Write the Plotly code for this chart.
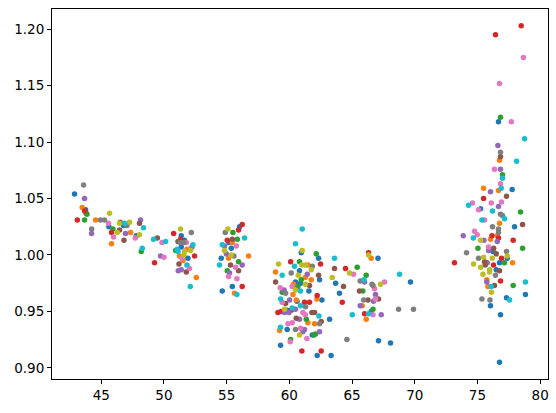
import plotly.graph_objects as go

blue_x = [42.87, 43.75, 43.80, 46.78, 45.61, 47.79, 51.38, 51.64, 51.38, 51.91, 56.03, 55.18, 55.37, 54.57, 54.65, 55.45,
          60.95, 62.33, 60.81, 62.41, 63.69, 60.49, 60.89, 61.56, 64.0, 62.60, 60.61, 59.83, 63.21, 59.83, 61.83, 59.30,
          62.22, 63.33, 67.07, 69.66, 66.53, 67.11, 68.07, 76.68, 77.77, 75.25, 77.96, 76.24, 77.38, 76.76, 76.50, 78.83,
          77.32, 76.04, 76.84, 76.76]
blue_y = [1.054, 1.040, 1.037, 1.026, 1.025, 1.017, 1.017, 1.013, 1.007, 0.997, 1.025, 1.011, 1.006, 0.997, 0.968, 0.972,
          1.002, 0.997, 0.986, 0.978, 0.975, 0.976, 0.975, 0.968, 0.966, 0.960, 0.959, 0.951, 0.943, 0.934, 0.929, 0.920,
          0.911, 0.911, 0.997, 0.976, 0.950, 0.924, 0.922, 1.118, 1.058, 1.041, 1.025, 1.003, 0.997, 0.993, 0.987, 0.965,
          0.962, 0.955, 0.947, 0.905]

orange_x = [43.48, 44.55, 47.34, 45.82, 51.83, 51.24, 51.52, 52.58, 55.45, 55.15, 56.75, 55.63, 61.48, 58.90, 61.75, 60.33,
            60.29, 62.20, 60.55, 62.01, 61.48, 59.22, 61.27, 66.53, 65.81, 66.13, 76.76, 75.49, 76.68, 76.76, 76.58, 76.04,
            77.80, 75.75, 75.84]
orange_y = [1.042, 1.031, 1.020, 1.010, 1.005, 0.999, 0.995, 0.980, 1.011, 0.997, 0.999, 0.966, 0.991, 0.985, 0.978, 0.974,
            0.965, 0.961, 0.960, 0.939, 0.940, 0.933, 0.980, 0.997, 0.955, 0.943, 1.084, 1.059, 1.057, 1.028, 1.017, 1.014,
            0.993, 0.978, 0.972]

green_x = [43.86, 43.67, 45.93, 48.19, 50.93, 55.50, 55.85, 55.95, 55.05, 62.15, 60.81, 60.68, 59.43, 61.35, 61.96, 62.09,
           60.10, 60.95, 65.41, 66.13, 65.86, 66.67, 76.84, 77.0, 78.44, 75.04, 78.60, 77.16, 77.85]
green_y = [1.036, 1.031, 1.023, 1.003, 1.004, 1.020, 1.014, 0.994, 0.986, 1.001, 0.994, 0.972, 0.967, 0.943, 0.929, 0.930,
           0.925, 0.978, 0.989, 0.982, 0.968, 0.952, 1.122, 1.071, 1.038, 1.006, 1.006, 0.993, 0.973]

red_x = [43.67, 43.09, 45.82, 49.25, 50.77, 51.32, 52.44, 56.24, 55.95, 55.05, 56.24, 60.10, 62.49, 64.48, 62.22, 61.21,
         61.61, 64.22, 59.09, 59.35, 60.15, 61.0, 62.54, 66.32, 66.0, 78.49, 76.44, 75.49, 76.16, 76.68, 77.85, 73.17,
         76.92, 76.28, 76.84]
red_y = [1.039, 1.031, 1.020, 0.993, 1.019, 1.014, 0.999, 1.027, 1.022, 1.013, 0.972, 0.994, 0.992, 0.988, 0.964, 0.958,
         0.958, 0.958, 0.949, 0.950, 0.951, 0.915, 0.915, 1.002, 0.948, 1.203, 1.195, 1.050, 1.017, 1.015, 1.013, 0.993,
         0.997, 0.991, 0.977]

purple_x = [43.67, 48.13, 46.94, 44.23, 49.73, 52.23, 51.38, 51.14, 54.83, 54.97, 56.24, 55.23, 61.43, 60.02, 60.49, 59.62,
            59.97, 60.81, 61.21, 61.08, 62.41, 59.58, 66.0, 66.87, 66.71, 65.65, 67.33, 76.63, 76.84, 76.04, 76.68, 73.87,
            75.52, 76.58, 75.89, 75.78, 75.75]
purple_y = [1.050, 1.031, 1.019, 1.019, 0.999, 1.007, 0.987, 0.986, 1.008, 1.001, 0.991, 0.984, 0.983, 0.960, 0.952, 0.949,
            0.949, 0.943, 0.934, 0.932, 0.932, 0.969, 0.976, 0.965, 0.959, 0.955, 0.947, 1.097, 1.076, 1.056, 1.043, 1.017,
            1.013, 1.012, 1.004, 0.993, 0.976]

brown_x = [46.52, 48.05, 46.46, 46.81, 49.47, 51.12, 51.20, 51.78, 55.45, 55.31, 55.95, 63.60, 62.33, 58.90, 64.32, 61.61,
           59.70, 61.80, 62.01, 60.55, 62.54, 65.59, 66.27, 67.11, 76.84, 77.32, 78.60, 76.29, 76.50, 75.57, 75.62, 76.76,
           76.36]
brown_y = [1.029, 1.028, 1.022, 1.013, 1.015, 1.012, 0.992, 0.985, 1.014, 0.991, 0.986, 0.988, 0.982, 0.976, 0.972, 0.973,
           0.957, 0.949, 0.949, 0.944, 0.941, 0.968, 0.960, 0.961, 1.087, 1.052, 1.027, 1.006, 1.001, 0.994, 0.991, 0.986,
           0.973]

pink_x = [45.58, 47.71, 45.98, 49.84, 50.0, 51.78, 51.44, 52.04, 55.77, 55.71, 55.15, 55.82, 60.23, 59.43, 61.08, 61.27,
          59.89, 60.23, 60.89, 61.40, 60.07, 59.27, 65.12, 67.59, 66.79, 66.87, 66.67, 78.67, 76.76, 77.70, 76.36, 76.84,
          74.61, 76.10, 76.92, 75.09, 75.57, 74.77, 74.98, 75.89]
pink_y = [1.028, 1.015, 1.016, 1.011, 0.998, 1.011, 0.997, 0.988, 1.008, 0.989, 0.981, 0.979, 0.972, 0.958, 0.949, 0.947,
          0.939, 0.940, 0.935, 0.926, 0.923, 0.971, 0.983, 0.976, 0.970, 0.961, 0.947, 1.175, 1.152, 1.118, 1.076, 1.063,
          1.046, 1.046, 1.047, 1.040, 1.031, 1.021, 1.018, 1.007]

gray_x = [43.59, 44.94, 45.26, 47.05, 44.23, 52.18, 51.30, 51.59, 54.89, 55.58, 61.83, 60.15, 59.70, 61.29, 62.41, 60.49,
          65.65, 66.59, 66.67, 65.92, 68.71, 69.90, 64.59, 76.84, 76.84, 77.0, 76.20, 76.68, 76.68, 74.13, 77.32, 75.09,
          76.44, 75.36, 76.0]
gray_y = [1.062, 1.031, 1.031, 1.026, 1.023, 1.020, 1.011, 1.011, 1.020, 0.999, 0.990, 0.984, 0.966, 0.954, 0.939, 0.934,
          0.977, 0.974, 0.973, 0.960, 0.952, 0.952, 0.925, 1.091, 1.036, 1.035, 1.025, 1.023, 1.020, 1.002, 1.003, 0.997,
          0.982, 0.961, 0.960]

olive_x = [45.66, 47.26, 46.46, 46.28, 48.05, 51.32, 51.64, 52.12, 51.59, 55.10, 54.83, 55.37, 61.03, 59.14, 61.0, 61.29,
           61.75, 63.42, 61.29, 60.49, 59.62, 60.81, 60.71, 66.32, 64.80, 67.27, 75.25, 75.49, 76.18, 77.38, 74.69, 75.25,
           75.97, 75.97, 75.44, 76.12]
olive_y = [1.037, 1.029, 1.028, 1.020, 1.018, 1.023, 1.003, 1.004, 1.000, 1.023, 1.004, 1.000, 1.004, 0.992, 0.991, 0.991,
           0.987, 0.980, 0.974, 0.969, 0.952, 0.929, 0.982, 1.000, 0.984, 0.974, 1.013, 0.998, 0.997, 0.999, 0.992, 0.989,
           0.987, 0.985, 0.983, 0.967]

cyan_x = [46.86, 48.37, 49.17, 48.27, 50.13, 52.31, 51.06, 51.12, 51.83, 52.10, 56.43, 54.65, 54.43, 55.82, 61.03, 60.49,
          63.60, 60.41, 59.43, 60.89, 59.30, 60.89, 60.23, 62.36, 59.30, 68.79, 65.95, 65.02, 66.32, 78.76, 78.12, 77.0,
          76.90, 74.29, 76.20, 77.16, 75.36, 74.67, 78.83, 76.10, 77.56]
cyan_y = [1.028, 1.024, 1.014, 1.006, 1.012, 1.009, 1.005, 1.003, 0.991, 0.972, 1.015, 1.009, 0.991, 0.965, 1.023, 1.010,
          0.997, 0.990, 0.982, 0.968, 0.961, 0.955, 0.953, 0.946, 0.936, 0.983, 0.978, 0.947, 0.948, 1.103, 1.083, 1.068,
          1.059, 1.044, 1.039, 1.032, 1.031, 1.015, 0.976, 0.972, 0.960]

series = [
    (blue_x, blue_y, "#1f77b4"),
    (orange_x, orange_y, "#ff7f0e"),
    (green_x, green_y, "#2ca02c"),
    (red_x, red_y, "#d62728"),
    (purple_x, purple_y, "#9467bd"),
    (brown_x, brown_y, "#8c564b"),
    (pink_x, pink_y, "#e377c2"),
    (gray_x, gray_y, "#7f7f7f"),
    (olive_x, olive_y, "#bcbd22"),
    (cyan_x, cyan_y, "#17becf"),
]

fig = go.Figure()
for xs, ys, col in series:
    fig.add_trace(go.Scatter(x=xs, y=ys, mode="markers",
                             marker=dict(color=col, size=5.5, line=dict(width=0)),
                             showlegend=False, hoverinfo="skip"))

all_x = [v for s in series for v in s[0]]
all_y = [v for s in series for v in s[1]]
xr = max(all_x) - min(all_x)
yr = max(all_y) - min(all_y)
xrange = [min(all_x) - 0.05 * xr, max(all_x) + 0.05 * xr]
yrange = [min(all_y) - 0.05 * yr, max(all_y) + 0.05 * yr]

axis_common = dict(showgrid=False, zeroline=False, showline=True, linecolor="black", linewidth=1,
                   mirror=True, ticks="outside", ticklen=4, tickwidth=1, tickcolor="black",
                   tickfont=dict(family="DejaVu Sans", size=13.5, color="black"))

fig.update_xaxes(range=xrange, tickvals=[45, 50, 55, 60, 65, 70, 75, 80], **axis_common)
fig.update_yaxes(range=yrange, tickvals=[0.90, 0.95, 1.00, 1.05, 1.10, 1.15, 1.20], tickformat=".2f", **axis_common)

fig.update_layout(width=556, height=413, margin=dict(l=52, r=8, t=9, b=34),
                  plot_bgcolor="white", paper_bgcolor="white")

fig.write_html("out.html")
